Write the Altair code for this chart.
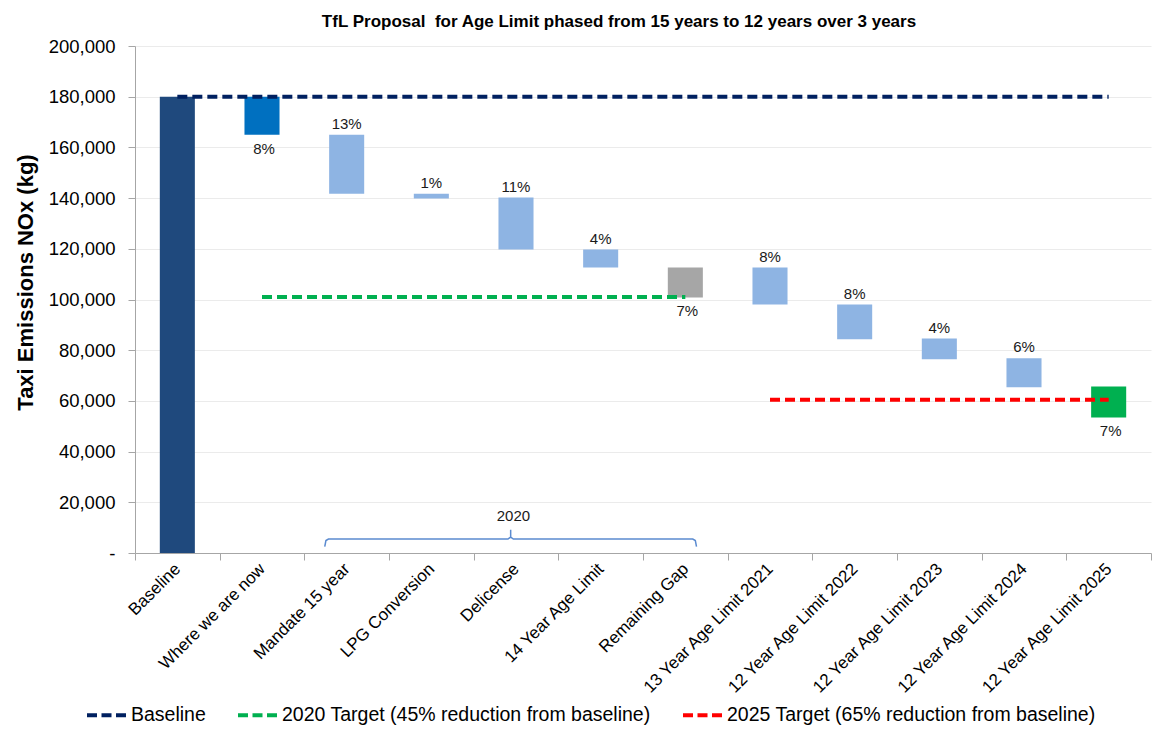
import altair as alt
import pandas as pd

FONT = "Liberation Sans"

# ---- data ----
categories = ["Baseline", "Where we are now", "Mandate  15 year", "LPG Conversion",
              "Delicense", "14 Year Age Limit", "Remaining Gap", "13 Year Age Limit 2021",
              "12 Year Age Limit 2022", "12 Year Age Limit 2023", "12 Year Age Limit 2024",
              "12 Year Age Limit 2025"]
bar_start = [0, 180000, 165000, 141700, 140200, 119700, 112600, 112600, 98000, 84600, 76800, 65700]
bar_end = [180000, 165000, 141700, 139800, 119700, 112600, 100800, 98000, 84300, 76400, 65400, 53500]
bar_kind = ["baseline", "now", "step", "step", "step", "step", "gap", "step", "step", "step", "step", "final"]
pct_labels = ["", "8%", "13%", "1%", "11%", "4%", "7%", "8%", "8%", "4%", "6%", "7%"]
label_side = ["none", "below", "above", "above", "above", "above", "below", "above", "above",
              "above", "above", "below"]

kind_domain = ["baseline", "now", "step", "gap", "final"]
kind_colors = ["#1F497D", "#0070C0", "#8EB4E3", "#A6A6A6", "#00B050"]

series = ["Baseline", "2020 Target (45% reduction from baseline)",
          "2025 Target (65% reduction from baseline)"]
series_value = [180000, 101000, 60500]
series_from = [0.5, 1.5, 7.5]     # category-centre positions (category index + 0.5)
series_to = [11.5, 6.5, 11.5]
series_colors = ["#002060", "#00B050", "#FF0000"]

bracket_x = [2.241, 2.255, 2.285, 4.405, 4.437, 4.437, 4.437, 4.469, 6.588, 6.618, 6.632]
bracket_y = [2500, 4900, 5500, 5500, 6300, 9200, 6300, 5500, 5500, 4900, 2500]
bracket_label = "2020"
bracket_label_x = 4.47
bracket_label_y = 14600

title_text = "TfL Proposal \u00a0for Age Limit phased from 15 years to 12 years over 3 years"
y_title = "Taxi Emissions NOx (kg)"

# ---- tables ----
bars_df = pd.DataFrame({
    "cat": categories, "start": bar_start, "end": bar_end, "kind": bar_kind,
    "pct": pct_labels, "side": label_side,
})
bars_df["top"] = bars_df[["start", "end"]].max(axis=1)
bars_df["bottom"] = bars_df[["start", "end"]].min(axis=1)

rules_df = pd.DataFrame({"series": series, "value": series_value,
                         "x1": series_from, "x2": series_to})
bracket_df = pd.DataFrame({"x": bracket_x, "y": bracket_y, "i": list(range(len(bracket_x)))})
blabel_df = pd.DataFrame({"x": [bracket_label_x], "y": [bracket_label_y], "t": [bracket_label]})

W, H = 1016, 507
yscale = alt.Scale(domain=[0, 200000], nice=False, zero=True)
yaxis = alt.Axis(
    values=list(range(0, 200001, 20000)),
    labelExpr="datum.value == 0 ? '-' : format(datum.value, ',')",
    grid=True, gridColor="#EBEBEB", gridWidth=1,
    domainColor="#A6A6A6", tickColor="#A6A6A6", tickSize=7,
    labelFont=FONT, labelFontSize=18.5, labelColor="#000000", labelPadding=13,
    title=y_title, titleFont=FONT, titleFontSize=22, titleFontWeight="bold",
    titleColor="#000000", titlePadding=11, titleY=236,
)

xband = alt.X(
    "cat:N", sort=categories, title=None,
    scale=alt.Scale(paddingInner=0, paddingOuter=0),
    axis=alt.Axis(
        tickBand="extent", tickSize=7, tickColor="#A6A6A6", domainColor="#A6A6A6",
        labelAngle=-45, labelAlign="right", labelBaseline="middle",
        labelFont=FONT, labelFontSize=17, labelColor="#000000", labelPadding=6,
        grid=False,
    ),
)

bars = alt.Chart(bars_df).mark_bar(width={"band": 0.414}).encode(
    x=xband,
    y=alt.Y("start:Q", scale=yscale, axis=yaxis),
    y2="end:Q",
    color=alt.Color("kind:N", scale=alt.Scale(domain=kind_domain, range=kind_colors), legend=None),
)

text_above = alt.Chart(bars_df).transform_filter("datum.side == 'above'").mark_text(
    font=FONT, fontSize=15, color="#1A1A1A", baseline="bottom", dy=-3
).encode(x=xband, y=alt.Y("top:Q", scale=yscale, axis=yaxis), text="pct:N")

text_below = alt.Chart(bars_df).transform_filter("datum.side == 'below'").mark_text(
    font=FONT, fontSize=15, color="#1A1A1A", baseline="top", dy=7, dx=2
).encode(x=xband, y=alt.Y("bottom:Q", scale=yscale, axis=yaxis), text="pct:N")

band_layer = alt.layer(bars, text_above, text_below)

xq = alt.Scale(domain=[0, 12], nice=False, zero=False)

rules = alt.Chart(rules_df).mark_rule(strokeWidth=4, strokeDash=[10, 5]).encode(
    x=alt.X("x1:Q", scale=xq, axis=None),
    x2="x2:Q",
    y=alt.Y("value:Q", scale=yscale, axis=yaxis),
    color=alt.Color(
        "series:N", sort=series,
        scale=alt.Scale(domain=series, range=series_colors),
        legend=alt.Legend(
            title=None, orient="none", legendX=-50, legendY=647, direction="horizontal",
            columns=3, symbolType="stroke", symbolSize=1600, symbolStrokeWidth=4,
            symbolDash=[10, 4.5], labelFont=FONT, labelFontSize=19.5, labelColor="#000000",
            labelOffset=2, columnPadding=24, labelLimit=700,
        ),
    ),
)

bracket = alt.Chart(bracket_df).mark_line(color="#5B8BD0", strokeWidth=1.5).encode(
    x=alt.X("x:Q", scale=xq, axis=None),
    y=alt.Y("y:Q", scale=yscale, axis=yaxis),
    order="i:Q",
)

bracket_text = alt.Chart(blabel_df).mark_text(
    font=FONT, fontSize=15, color="#1A1A1A"
).encode(
    x=alt.X("x:Q", scale=xq, axis=None),
    y=alt.Y("y:Q", scale=yscale, axis=yaxis),
    text="t:N",
)

quant_layer = alt.layer(rules, bracket, bracket_text)

chart = alt.layer(band_layer, quant_layer).resolve_scale(
    x="independent", color="independent"
).properties(
    width=W, height=H,
    title=alt.TitleParams(title_text, font=FONT, fontSize=17, fontWeight="bold",
                          color="#000000", anchor="middle", frame="group", dx=-24, offset=6),
    padding={"left": 6, "top": 5, "right": 3, "bottom": 0},
).configure_view(stroke=None)

chart.save("out.html", embed_options={"renderer": "svg", "actions": False})
